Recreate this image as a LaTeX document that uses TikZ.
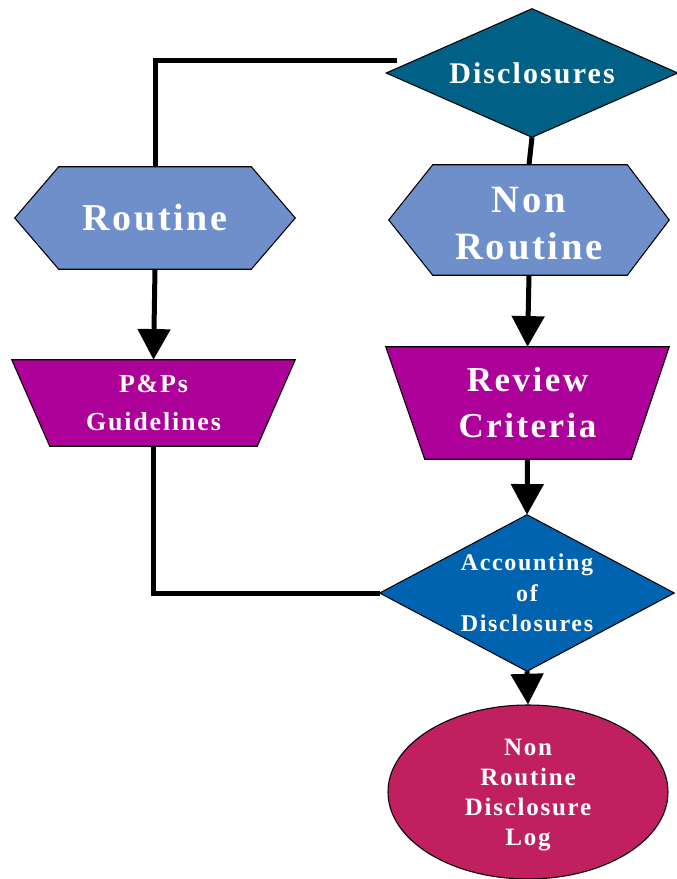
\documentclass[tikz,border=0pt]{standalone}
\usepackage{fontspec}
\setmainfont{Liberation Serif}
\newfontfamily\labelfont[LetterSpace=7]{Liberation Serif}
\usetikzlibrary{arrows.meta,calc,backgrounds,shapes.geometric}

\definecolor{discblue}{RGB}{0,96,134}
\definecolor{hexblue}{RGB}{111,143,203}
\definecolor{trapmag}{RGB}{173,0,153}
\definecolor{acctblue}{RGB}{0,99,176}
\definecolor{logred}{RGB}{192,32,95}

\tikzset{
  box/.style={rectangle, inner sep=0pt, text=white, align=center},
  outline/.style={draw=black, line width=0.8pt},
  conn/.style={draw=black, line width=3.75pt},
  arr/.style={conn, -{Triangle[width=24pt,length=23pt]}},
  lab/.style 2 args={font=\labelfont\bfseries\fontsize{#1}{#2}\selectfont},
}

\begin{document}
\begin{tikzpicture}[x=0.75pt,y=-0.75pt]
\useasboundingbox (0,0) rectangle (677,879);

% ---- nodes (exact outer sizes, text centred) ----
\node[box, minimum width=218.25pt, minimum height=96pt, lab={22.5pt}{27pt}]
  (disc) at (532,73) {Disclosures};
\node[box, minimum width=210pt, minimum height=76.5pt, lab={28.5pt}{34pt}]
  (routine) at (155,218) {Routine};
\node[box, minimum width=210pt, minimum height=82.5pt, lab={29pt}{35.25pt},
  text height=59pt]
  (nonroutine) at (529,220) {Non\\Routine};
\node[box, minimum width=212.25pt, minimum height=64.5pt, lab={19.5pt}{28.5pt}]
  (pps) at (153.5,403) {P\&Ps\\Guidelines};
\node[box, minimum width=212.25pt, minimum height=84pt, lab={26.25pt}{34.5pt}]
  (review) at (527.5,403) {Review\\Criteria};
\node[box, minimum width=220.5pt, minimum height=117pt, lab={18pt}{22.9pt}]
  (acct) at (527,593) {Accounting\\of\\Disclosures};
\node[ellipse, outline, fill=logred, inner sep=0pt, text=white, align=center,
  minimum width=210pt, minimum height=130.5pt, lab={18.75pt}{22.5pt},
  text depth=0pt]
  (log) at (528,792) {Non\\Routine\\Disclosure\\Log};

% ---- shape outlines behind the text ----
\begin{pgfonlayer}{background}
  % decision diamonds
  \path[outline, fill=discblue]
    (disc.west) -- (disc.north) -- (disc.east) -- (disc.south) -- cycle;
  \path[outline, fill=acctblue]
    (acct.west) -- (acct.north) -- (acct.east) -- (acct.south) -- cycle;
  % hexagons
  \path[outline, fill=hexblue]
    (routine.west) -- ($(routine.north west)+(44,0)$) -- ($(routine.north east)+(-44,0)$)
    -- (routine.east) -- ($(routine.south east)+(-44,0)$) -- ($(routine.south west)+(44,0)$) -- cycle;
  \path[outline, fill=hexblue]
    (nonroutine.west) -- ($(nonroutine.north west)+(44,0)$) -- ($(nonroutine.north east)+(-42,0)$)
    -- (nonroutine.east) -- ($(nonroutine.south east)+(-42,0)$) -- ($(nonroutine.south west)+(44,0)$) -- cycle;
  % trapezoids
  \path[outline, fill=trapmag]
    (pps.north west) -- (pps.north east) -- ($(pps.south east)+(-38,0)$)
    -- ($(pps.south west)+(38,0)$) -- cycle;
  \path[outline, fill=trapmag]
    (review.north west) -- (review.north east) -- ($(review.south east)+(-38,0)$)
    -- ($(review.south west)+(39,0)$) -- cycle;
\end{pgfonlayer}

% ---- connectors ----
\draw[conn] ($(disc.west)+(11,-13)$) -| (routine.north);
\draw[conn] (disc.south) -- (nonroutine.north);
\draw[arr] (routine.south) -- (pps.north);
\draw[arr] (nonroutine.south) -- (review.north);
\draw[arr] (review.south) -- (acct.north);
\draw[conn] (pps.south) |- (acct.west);
\draw[arr] (acct.south) -- (log.north);
\end{tikzpicture}
\end{document}
